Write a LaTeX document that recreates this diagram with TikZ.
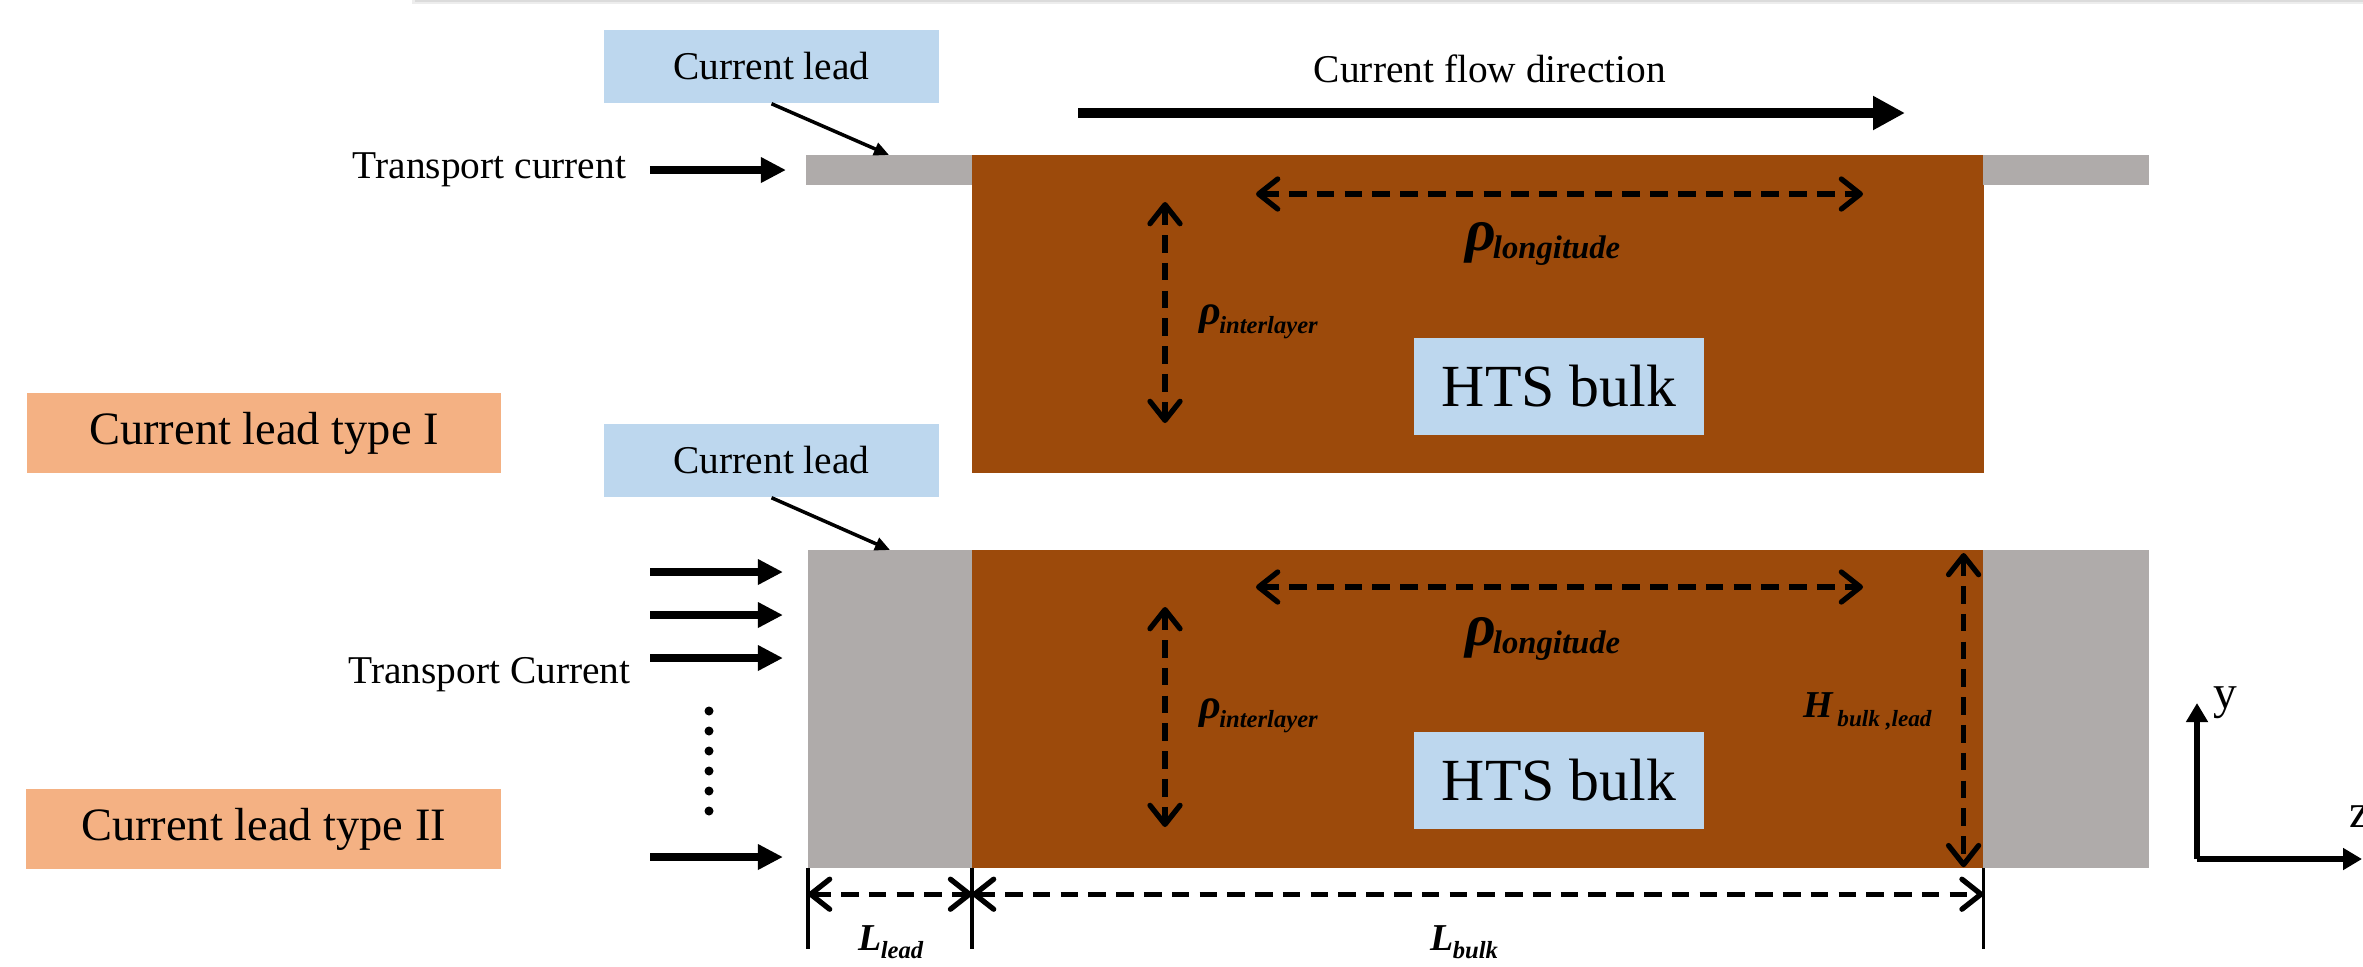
\documentclass[tikz,border=0pt]{standalone}
\usepackage{fontspec}
\setmainfont{Liberation Serif}
\usetikzlibrary{arrows.meta,positioning}
\definecolor{BulkBrown}{HTML}{9C4A0B}
\definecolor{LeadGray}{HTML}{AFABAA}
\definecolor{TagBlue}{HTML}{BDD7EE}
\definecolor{TypeOrange}{HTML}{F4B183}

\begin{document}
\begin{tikzpicture}[x=0.01cm, y=-0.01cm,
  block/.style={inner sep=0pt, outer sep=0pt, anchor=north west},
  tag/.style={fill=TagBlue, inner sep=0pt, minimum width=3.35cm,
              minimum height=0.73cm, font=\fontsize{11.2}{13}\selectfont},
  typetag/.style={fill=TypeOrange, inner sep=0pt, minimum width=4.74cm,
              minimum height=0.79cm, font=\fontsize{13.2}{15}\selectfont},
  htsbox/.style={fill=TagBlue, inner sep=0pt, minimum width=2.9cm,
              minimum height=0.97cm, font=\fontsize{17}{19}\selectfont},
  plain/.style={inner sep=0pt, anchor=base, font=\fontsize{11.2}{13}\selectfont},
  sym/.style={inner sep=0pt, anchor=base west, font=\bfseries\itshape},
  feed/.style={-{Triangle[length=0.25cm, width=0.24cm]}, line width=2.2pt},
  pointer/.style={-{Triangle[length=0.15cm, width=0.13cm]}, line width=1pt},
  flow/.style={-{Triangle[length=0.32cm, width=0.32cm]}, line width=3.1pt},
  dim/.style={{Straight Barb[round, length=0.19cm, width=0.3cm]}-{Straight Barb[round, length=0.19cm, width=0.3cm]},
              line width=1.5pt, dash pattern=on 5pt off 2.9pt},
  tick/.style={line width=1pt},
  axis/.style={-{Triangle[length=0.19cm, width=0.21cm]}, line width=1.6pt}
]
\useasboundingbox (0,0) rectangle (2363,966);
% shadow of the panel above
\fill[black!7] (412,0) rectangle (2363,4);
\fill[black!14] (415,0) rectangle (2363,1.5);

% type I: thin leads
\node[block, fill=BulkBrown, minimum width=10.11cm, minimum height=3.18cm] (bulk1) at (972,155) {};
\node[block, fill=LeadGray, minimum width=1.66cm, minimum height=0.30cm] (leadL1) at (806,155) {};
\node[block, fill=LeadGray, minimum width=1.66cm, minimum height=0.30cm] (leadR1) at (1983,155) {};
\node[tag] (tag1) at (771.5,66.5) {Current lead};
\node[typetag] (type1) at (264,433) {Current lead type I};
\node[htsbox] (hts1) at (1559,386.5) {HTS bulk};
\node[plain] (flowtxt) at (1490,82) {Current flow direction};
\coordinate (flowA) at (1078,113);
\coordinate (flowB) at (1905,113);
\draw[flow] (flowA) -- (flowB);
\node[plain] (trans1) at (489.5,178) {Transport current};
\draw[feed] ([xshift=-1.56cm]leadL1.west) -- ([xshift=-0.2cm]leadL1.west);
\draw[pointer] (tag1.south) -- (leadL1.north);
\draw[dim] (1256,194) -- (1863,194);
\draw[dim] (1165,202) -- (1165,423);
\node[sym] (rholong1) at (1465,250)
  {{\fontsize{17}{17}\selectfont ρ}\kern-1pt\raisebox{-2.5pt}{\fontsize{9.3}{10}\selectfont longitude}};
\node[sym] (rhoint1) at (1199,324)
  {{\fontsize{12}{12}\selectfont ρ}\kern-0.6pt\raisebox{-2.8pt}{\fontsize{7}{8}\selectfont interlayer}};

% type II: full-height leads
\node[block, fill=BulkBrown, minimum width=10.11cm, minimum height=3.18cm] (bulk2) at (972,550) {};
\node[block, fill=LeadGray, minimum width=1.64cm, minimum height=3.18cm] (leadL2) at (808,550) {};
\node[block, fill=LeadGray, minimum width=1.66cm, minimum height=3.18cm] (leadR2) at (1983,550) {};
\node[tag] (tag2) at (771.5,460.5) {Current lead};
\node[typetag] (type2) at (263.5,829) {Current lead type II};
\node[htsbox] (hts2) at (1559,780.5) {HTS bulk};
\node[plain] (trans2) at (489.5,683) {Transport Current};
\foreach \yy [count=\i] in {572,615,658,857} {
  \coordinate (in\i) at (650,\yy);
  \draw[feed] (in\i) -- ([xshift=-0.25cm]in\i -| leadL2.west);
}
\foreach \k in {0,...,5}
  \fill (709,711+20*\k) circle[radius=0.045cm];
\draw[pointer] (tag2.south) -- (leadL2.north);
\draw[dim] (1256,587) -- (1863,587);
\draw[dim] (1165,607) -- (1165,827);
\draw[dim] ([xshift=-0.2cm, yshift=-0.03cm]bulk2.north east) -- ([xshift=-0.2cm, yshift=0.01cm]bulk2.south east);
\node[sym] (rholong2) at (1465,645)
  {{\fontsize{17}{17}\selectfont ρ}\kern-1pt\raisebox{-2.5pt}{\fontsize{9.3}{10}\selectfont longitude}};
\node[sym] (rhoint2) at (1199,718)
  {{\fontsize{12}{12}\selectfont ρ}\kern-0.6pt\raisebox{-2.8pt}{\fontsize{7}{8}\selectfont interlayer}};
\node[sym] (hgt) at (1803,717)
  {{\fontsize{10.8}{11}\selectfont H}\kern1.2pt\raisebox{-2.8pt}{\fontsize{6.6}{7}\selectfont bulk ,lead}};

% dimensions
\draw[tick] (leadL2.south west) -- ++(0,81);
\draw[tick] (bulk2.south west) -- ++(0,81);
\draw[tick] (bulk2.south east) -- ++(0,81);
\draw[dim] ([yshift=-0.26cm]leadL2.south west) -- ([yshift=-0.26cm]leadL2.south east);
\draw[dim] ([yshift=-0.26cm]bulk2.south west) -- ([yshift=-0.26cm]bulk2.south east);
\node[sym] (llead) at (858,950)
  {{\fontsize{10.8}{11}\selectfont L}\kern-0.3pt\raisebox{-2.3pt}{\fontsize{7}{8}\selectfont lead}};
\node[sym] (lbulk) at (1430,950)
  {{\fontsize{10.8}{11}\selectfont L}\kern-0.3pt\raisebox{-2.3pt}{\fontsize{7}{8}\selectfont bulk}};

% axes
\coordinate (orig) at (2197,859);
\coordinate (ytip) at (2197,703);
\coordinate (ztip) at (2362,859);
\draw[axis] (orig) -- (ytip);
\draw[axis] (orig) -- (ztip);
\node[plain, anchor=base west, font=\fontsize{13.5}{15}\selectfont] (ylab) at (2213,708) {y};
\node[plain, anchor=base west, font=\fontsize{13.5}{15}\selectfont] (zlab) at (2349,827) {z};
\end{tikzpicture}
\end{document}
